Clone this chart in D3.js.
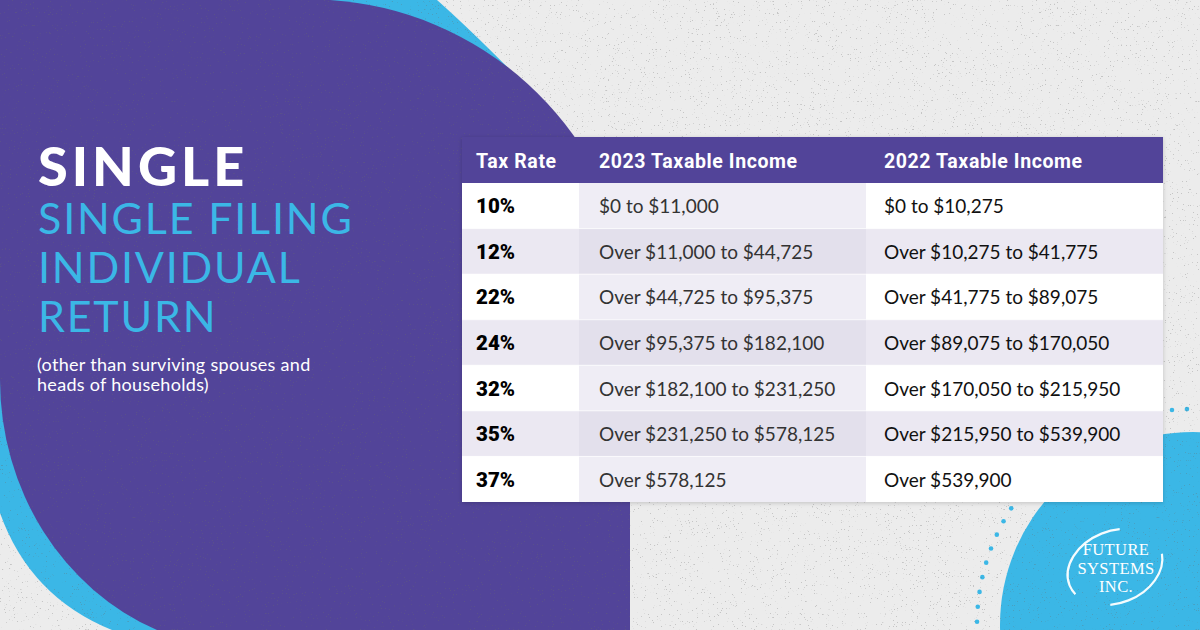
<!DOCTYPE html>
<html><head><meta charset="utf-8">
<script src="https://cdn.jsdelivr.net/npm/d3@7"></script>
<style>html,body{margin:0;padding:0;background:#ececec;}svg{display:block}</style>
</head><body>
<svg id="c" width="1200" height="630"></svg>
<script>
// ---- data ----
const headers = ["Tax Rate", "2023 Taxable Income", "2022 Taxable Income"];
const rates = ["10%", "12%", "22%", "24%", "32%", "35%", "37%"];
const income2023 = ["$0 to $11,000", "Over $11,000 to $44,725", "Over $44,725 to $95,375", "Over $95,375 to $182,100", "Over $182,100 to $231,250", "Over $231,250 to $578,125", "Over $578,125"];
const income2022 = ["$0 to $10,275", "Over $10,275 to $41,775", "Over $41,775 to $89,075", "Over $89,075 to $170,050", "Over $170,050 to $215,950", "Over $215,950 to $539,900", "Over $539,900"];
const titleMain = "SINGLE";
const titleLines = ["SINGLE FILING", "INDIVIDUAL", "RETURN"];
const noteLines = ["(other than surviving spouses and", "heads of households)"];
const logoLines = ["FUTURE", "SYSTEMS", "INC."];

// ---- layout / style ----
const W = 1200, H = 630;
const PURPLE = "#524499", CYAN = "#3bb7e6", BG = "#ececec";
const svg = d3.select("#c");

const defs = svg.append("defs");
const sh = defs.append("filter").attr("id", "sh").attr("x", "-5%").attr("y", "-5%").attr("width", "110%").attr("height", "115%");
sh.append("feDropShadow").attr("dx", 0).attr("dy", 1).attr("stdDeviation", 2).attr("flood-color", "#000").attr("flood-opacity", 0.18);
const nz = defs.append("filter").attr("id", "nz").attr("x", 0).attr("y", 0).attr("width", "100%").attr("height", "100%");
nz.append("feTurbulence").attr("type", "fractalNoise").attr("baseFrequency", 0.75).attr("numOctaves", 3).attr("seed", 7);
nz.append("feColorMatrix").attr("type", "matrix")
  .attr("values", "0 0 0 0 0.15  0 0 0 0 0.15  0 0 0 0 0.15  -18 0 0 0 5.3");

svg.append("rect").attr("width", W).attr("height", H).attr("fill", BG);

// cyan bands behind purple
svg.append("path").attr("fill", CYAN)
  .attr("d", "M300,0 L437,0 Q472,31 520,80 L300,80 Z");
svg.append("path").attr("fill", CYAN)
  .attr("d", "M0,330 L0,513 Q30,597 112,630 L300,630 L300,330 Z");

// purple shape
svg.append("path").attr("fill", PURPLE)
  .attr("d", "M0,0 L330,0 A325,325 0 0 1 630,273 L630,630 L157,630 A250,270 0 0 1 0,380 Z");

// bottom-right cyan circle + dotted ring
const cc = {x: 1193, y: 625};
svg.append("circle").attr("cx", cc.x).attr("cy", cc.y).attr("r", 193).attr("fill", CYAN);
const ringR = 216, step = 15 / ringR, a0 = Math.atan2(411 - cc.y, 1187 - cc.x);
const ringAngles = d3.range(0, Math.floor(2 * Math.PI / step)).map(i => a0 - i * step);
svg.append("g").selectAll("circle").data(ringAngles).join("circle")
  .attr("cx", a => cc.x + ringR * Math.cos(a))
  .attr("cy", a => cc.y + ringR * Math.sin(a))
  .attr("r", 2.3).attr("fill", CYAN);

// speckle texture
svg.append("rect").attr("width", W).attr("height", H).attr("filter", "url(#nz)").attr("opacity", 0.3);

// logo
const logo = svg.append("g").attr("fill", "#fff");
logo.append("ellipse").attr("cx", 1115).attr("cy", 567).attr("rx", 49).attr("ry", 36)
  .attr("transform", "rotate(-22 1115 567)")
  .attr("fill", "none").attr("stroke", "#fff").attr("stroke-width", 2.2)
  .attr("pathLength", 100).attr("stroke-dasharray", "30 14 36 20").attr("stroke-dashoffset", -2)
  .attr("opacity", 0.95);
logo.selectAll("text").data(logoLines).join("text")
  .attr("x", 1116).attr("y", (d, i) => 555 + i * 18.5)
  .attr("text-anchor", "middle")
  .attr("font-family", "Liberation Serif, DejaVu Serif, serif")
  .attr("font-size", 16.5).attr("letter-spacing", 0.4)
  .text(d => d);

// title block
svg.append("text").attr("x", 38).attr("y", 186)
  .attr("font-family", "Lato, sans-serif").attr("font-weight", 900)
  .attr("font-size", 54).attr("letter-spacing", 4).attr("fill", "#fff").text(titleMain);
svg.append("g").selectAll("text").data(titleLines).join("text")
  .attr("x", 38).attr("y", (d, i) => 234 + i * 49)
  .attr("font-family", "Lato, sans-serif").attr("font-weight", 400)
  .attr("font-size", 43).attr("letter-spacing", 1.8).attr("fill", CYAN).text(d => d);
svg.append("g").selectAll("text").data(noteLines).join("text")
  .attr("x", 37).attr("y", (d, i) => 371 + i * 20)
  .attr("font-family", "Lato, sans-serif").attr("font-size", 18)
  .attr("letter-spacing", 0.3).attr("fill", "#fff").text(d => d);

// ---- table ----
const colKeys = ["rate", "y2023", "y2022"];
const colStart = d3.scaleOrdinal().domain(colKeys).range([462, 579, 866]);
const colWidth = d3.scaleOrdinal().domain(colKeys).range([117, 287, 297]);
const textPad = d3.scaleOrdinal().domain(colKeys).range([14, 20, 18]);
const tableTop = 137, headBottom = 183, tableBottom = 502;
const y = d3.scaleBand().domain(rates).range([headBottom, tableBottom]);

const rows = rates.map((r, i) => ({rate: r, y2023: income2023[i], y2022: income2022[i], i}));
const fills = [["#ffffff", "#efedf5", "#ffffff"], ["#ebe8f2", "#e3e0ec", "#ebe8f2"]];

const table = svg.append("g");
table.append("rect").attr("x", 462).attr("y", tableTop).attr("width", 1163 - 462).attr("height", tableBottom - tableTop)
  .attr("fill", "#fff").attr("filter", "url(#sh)");
table.append("rect").attr("x", 462).attr("y", tableTop).attr("width", 1163 - 462).attr("height", headBottom - tableTop)
  .attr("fill", PURPLE);
table.selectAll("text.h").data(colKeys).join("text").attr("class", "h")
  .attr("x", k => colStart(k) + textPad(k)).attr("y", (tableTop + headBottom) / 2 + 8)
  .attr("font-family", "Roboto, sans-serif").attr("font-weight", 700)
  .attr("font-size", 19.5).attr("letter-spacing", 0.6).attr("fill", "#fff")
  .text((k, i) => headers[i]);

const rowG = table.selectAll("g.row").data(rows).join("g").attr("class", "row");
rowG.selectAll("rect").data(r => colKeys.map((k, j) => ({k, j, r}))).join("rect")
  .attr("x", d => colStart(d.k)).attr("y", d => y(d.r.rate))
  .attr("width", d => colWidth(d.k)).attr("height", y.bandwidth())
  .attr("fill", d => fills[d.r.i % 2][d.j]);
rowG.selectAll("text").data(r => colKeys.map((k, j) => ({k, j, r}))).join("text")
  .attr("x", d => colStart(d.k) + textPad(d.k))
  .attr("y", d => y(d.r.rate) + y.bandwidth() / 2 + 7.5)
  .attr("font-family", d => d.j === 0 ? "Roboto, sans-serif" : "Lato, sans-serif")
  .attr("font-weight", d => d.j === 0 ? 900 : 400)
  .attr("font-size", d => d.j === 0 ? 20.5 : 19)
  .attr("fill", d => d.j === 0 ? "#000" : (d.j === 1 ? "#333" : "#111"))
  .text(d => d.r[d.k]);
// thin separators between rows
table.selectAll("line.sep").data(rates.slice(1)).join("line").attr("class", "sep")
  .attr("x1", 462).attr("x2", 1163).attr("y1", r => y(r)).attr("y2", r => y(r))
  .attr("stroke", "#fff").attr("stroke-width", 1).attr("opacity", 0.7);
</script>
</body></html>
